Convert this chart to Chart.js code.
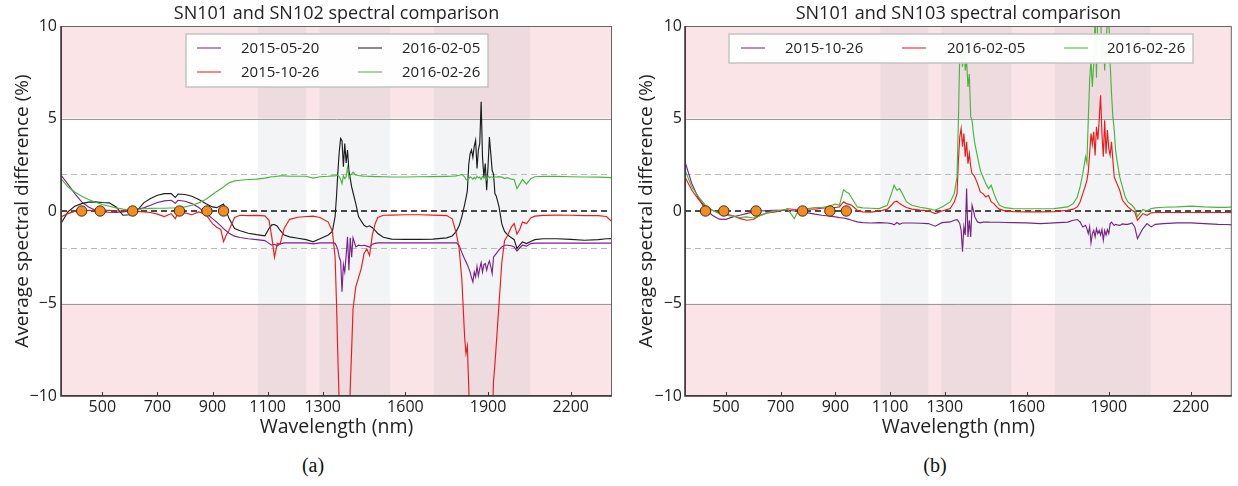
<!DOCTYPE html>
<html>
<head>
<meta charset="utf-8">
<script src="https://cdn.jsdelivr.net/npm/chart.js@4.4.0/dist/chart.umd.min.js"></script>
<style>
  body { margin: 0; background: #fff; width: 1238px; height: 486px; position: relative; overflow: hidden; }
  .panel { position: absolute; top: 0; height: 440px; }
  .cap { position: absolute; top: 454px; width: 60px; text-align: center;
         font-family: 'Liberation Serif', serif; font-size: 20px; color: #111; }
</style>
</head>
<body>
<div class="panel" style="left:0;width:620px"><canvas id="chartA"></canvas></div>
<div class="panel" style="left:620px;width:618px"><canvas id="chartB"></canvas></div>
<div class="cap" style="left:283px">(a)</div>
<div class="cap" style="left:905px">(b)</div>
<script>
// wavelength grid (nm), shared by every series
var wavelength = [
  350, 375, 400, 425, 450, 475, 500, 525, 550, 575,
  600, 625, 650, 675, 700, 725, 750, 765, 775, 800,
  825, 850, 875, 900, 915, 930, 940, 950, 960, 980,
  1000, 1030, 1060, 1090, 1105, 1115, 1125, 1135, 1145, 1160,
  1180, 1210, 1240, 1265, 1290, 1320, 1335, 1345, 1350, 1355,
  1360, 1365, 1370, 1375, 1380, 1385, 1390, 1395, 1400, 1405,
  1410, 1420, 1430, 1440, 1450, 1460, 1470, 1480, 1490, 1500,
  1520, 1550, 1600, 1650, 1700, 1750, 1770, 1785, 1795, 1805,
  1815, 1820, 1825, 1830, 1835, 1840, 1845, 1850, 1855, 1860,
  1865, 1870, 1875, 1880, 1885, 1890, 1895, 1900, 1905, 1910,
  1915, 1920, 1925, 1930, 1940, 1950, 1960, 1970, 1985, 1995,
  2005, 2015, 2025, 2040, 2055, 2070, 2100, 2150, 2200, 2250,
  2300, 2330, 2350
];

// (a) SN101 vs SN102
var a_20150520 = [
  1.94, 1.45, 0.94, 0.49, 0.22, 0.04, -0.05, -0.07, -0.08, -0.05,
  0.0, 0.08, 0.17, 0.31, 0.46, 0.55, 0.58, 0.42, 0.58, 0.53,
  0.4, 0.19, -0.1, -0.41, -0.6, -0.8, -0.95, -1.08, -1.2, -1.36,
  -1.43, -1.5, -1.55, -1.6, -1.75, -1.85, -1.8, -1.88, -1.78, -1.72,
  -1.72, -1.72, -1.72, -1.78, -1.72, -1.72, -1.72, -1.75, -1.9, -2.1,
  -2.5, -2.7, -4.37, -2.9, -3.3, -2.4, -1.4, -3.2, -1.45, -2.5,
  -1.45, -1.94, -1.85, -1.88, -1.85, -1.9, -1.95, -1.8, -1.75, -1.72,
  -1.72, -1.72, -1.72, -1.72, -1.72, -1.72, -1.72, -1.72, -1.85, -2.25,
  -2.6, -2.75, -2.9, -3.1, -3.3, -3.6, -3.83, -3.3, -3.56, -3.0,
  -3.5, -3.1, -2.8, -3.3, -2.9, -2.84, -3.2, -2.9, -2.7, -3.0,
  -3.38, -2.5, -2.4, -2.3, -2.1, -1.94, -1.85, -1.85, -1.88, -1.94,
  -2.16, -2.0, -1.85, -1.9, -1.76, -1.74, -1.74, -1.74, -1.74, -1.74,
  -1.74, -1.74, -1.74
];
var a_20151026 = [
  -0.32, -0.14, -0.02, 0.0, 0.04, 0.03, 0.04, 0.03, 0.0, 0.0,
  0.0, -0.02, -0.05, -0.08, -0.17, -0.3, -0.14, -0.41, -0.1, -0.1,
  -0.2, -0.05, -0.17, -0.68, -0.88, -1.0, -1.66, -1.3, -1.04, -0.35,
  -0.23, -0.25, -0.24, -0.26, -0.5, -1.4, -2.5, -1.75, -1.8, -0.95,
  -0.45, -0.34, -0.3, -0.28, -0.35, -0.6, -1.1, -2.5, -5.0, -7.9,
  -10.5, -13, -13, -13, -13, -13, -13, -12, -9.5, -7.5,
  -5.3, -4.1, -3.6, -3.1, -2.3, -2.05, -2.4, -1.3, -0.7, -0.35,
  -0.23, -0.22, -0.2, -0.2, -0.22, -0.25, -0.42, -1.22, -2.0, -3.7,
  -6.8, -7.7, -7.3, -9.5, -12, -13, -13, -13, -13, -13,
  -13, -13, -13, -13, -13, -13, -13, -13, -13, -13,
  -11.5, -9.2, -8.3, -7.2, -5.0, -2.8, -1.6, -1.35, -0.86, -0.68,
  -1.25, -1.0, -0.6, -0.68, -0.38, -0.28, -0.24, -0.22, -0.23, -0.25,
  -0.25, -0.3, -0.59
];
var a_20160205 = [
  -0.68, -0.05, 0.26, 0.4, 0.48, 0.49, 0.46, 0.44, 0.22, -0.23,
  -0.2, 0.0, 0.44, 0.67, 0.85, 0.94, 0.94, 0.73, 0.92, 0.89,
  0.8, 0.62, 0.4, 0.22, 0.18, 0.3, 0.38, 0.0, -0.41, -0.95,
  -1.07, -1.2, -1.28, -1.34, -0.95, -0.75, -0.73, -0.82, -1.04, -1.3,
  -1.4, -1.47, -1.55, -1.67, -1.5, -1.3, -1.1, -0.3, 0.8, 2.1,
  3.2, 3.92, 3.8, 2.4, 3.65, 2.6, 3.3, 2.2, 1.75, 1.3,
  1.0, 0.4, -0.3, -0.55, -0.77, -0.86, -0.8, -0.9, -1.05, -1.22,
  -1.42, -1.52, -1.53, -1.53, -1.52, -1.45, -1.35, -1.1, -0.8, -0.3,
  0.35, 0.7, 1.1, 2.5, 3.1, 3.3, 2.9, 3.5, 3.83, 2.3,
  3.3, 3.65, 5.9, 2.9, 1.84, 2.57, 1.12, 2.4, 4.0, 3.1,
  2.2, 2.0, 0.94, 0.8, 0.22, -0.7, -1.1, -1.28, -1.45, -1.55,
  -2.03, -1.85, -1.67, -1.76, -1.65, -1.55, -1.5, -1.5, -1.53, -1.58,
  -1.55, -1.5, -1.49
];
var a_20160226 = [
  1.75, 1.3, 1.03, 0.8, 0.62, 0.47, 0.35, 0.26, 0.17, 0.1,
  0.04, 0.08, 0.12, 0.14, 0.15, 0.15, 0.16, 0.17, 0.18, 0.22,
  0.31, 0.44, 0.62, 0.89, 1.05, 1.2, 1.3, 1.42, 1.52, 1.63,
  1.66, 1.7, 1.72, 1.78, 1.82, 1.85, 1.86, 1.88, 1.9, 1.9,
  1.88, 1.88, 1.88, 1.78, 1.85, 1.88, 1.9, 1.9, 1.92, 1.93,
  1.85, 1.7, 1.48, 1.9, 1.75, 1.85, 2.35, 1.8, 1.95, 2.0,
  2.1, 1.95, 1.92, 1.9, 1.88, 1.88, 1.87, 1.87, 1.86, 1.86,
  1.85, 1.84, 1.84, 1.85, 1.86, 1.87, 1.88, 1.9, 1.93, 1.98,
  1.85, 1.7, 1.66, 1.75, 1.85, 1.8, 1.72, 1.82, 1.74, 1.88,
  1.78, 1.83, 1.7, 1.86, 1.78, 1.82, 1.68, 1.9, 1.8, 1.85,
  1.83, 1.78, 1.85, 1.84, 1.86, 1.83, 1.75, 1.8, 1.72, 1.7,
  1.21, 1.45, 1.7, 1.45, 1.75, 1.85, 1.87, 1.87, 1.85, 1.84,
  1.83, 1.82, 1.8
];

// (b) SN101 vs SN103
var b_20151026 = [
  2.66, 1.48, 0.67, 0.08, -0.23, -0.44, -0.45, -0.32, -0.23, -0.14,
  -0.05, 0.0, 0.02, 0.04, 0.04, 0.04, 0.0, -0.02, -0.02, -0.1,
  -0.17, -0.23, -0.27, -0.32, -0.36, -0.38, -0.41, -0.45, -0.5, -0.59,
  -0.63, -0.65, -0.63, -0.65, -0.68, -0.75, -0.62, -0.72, -0.65, -0.65,
  -0.65, -0.66, -0.68, -0.82, -0.63, -0.59, -0.5, -0.47, -0.55, -0.68,
  -1.04, -2.2, -0.85, -1.3, 1.21, -1.4, -0.5, -1.4, 0.31, 0.04,
  -0.32, -0.59, -0.64, -0.6, -0.6, -0.6, -0.61, -0.61, -0.61, -0.61,
  -0.62, -0.63, -0.64, -0.68, -0.64, -0.6, -0.5, -0.46, -0.59, -0.86,
  -0.77, -0.95, -1.22, -0.85, -1.72, -1.22, -1.05, -1.4, -0.95, -1.22,
  -1.05, -1.3, -1.0, -1.58, -1.05, -1.3, -1.0, -1.22, -0.68, -0.6,
  -0.7, -0.78, -0.72, -0.75, -0.78, -0.7, -0.72, -0.72, -0.65, -0.86,
  -1.49, -1.22, -0.95, -0.68, -0.86, -0.72, -0.68, -0.64, -0.64, -0.68,
  -0.72, -0.73, -0.75
];
var b_20160205 = [
  1.84, 1.12, 0.62, 0.26, 0.04, -0.1, -0.17, -0.26, -0.4, -0.5,
  -0.46, -0.23, -0.1, -0.06, 0.0, 0.12, 0.08, 0.07, 0.11, 0.11,
  0.1, 0.15, 0.18, 0.19, 0.22, 0.5, 0.4, 0.36, 0.31, 0.04,
  -0.05, -0.06, -0.01, 0.1, 0.31, 0.49, 0.53, 0.4, 0.31, 0.19,
  0.1, 0.05, 0.01, -0.14, 0.0, 0.13, 0.49, 0.94, 2.75, 4.0,
  4.46, 3.47, 4.19, 2.93, 3.74, 2.56, 3.1, 2.39, 2.02, 1.95,
  1.84, 1.48, 1.03, 0.94, 0.76, 0.85, 0.49, 0.4, 0.22, 0.1,
  0.01, -0.03, -0.05, -0.05, -0.03, 0.04, 0.1, 0.22, 0.49, 0.94,
  1.39, 1.66, 2.11, 3.1, 4.19, 3.6, 4.28, 3.0, 4.55, 3.85,
  4.9, 6.26, 4.19, 2.93, 4.9, 3.1, 4.37, 3.38, 3.02, 3.74,
  2.75, 1.84, 1.65, 1.48, 1.12, 0.58, 0.4, 0.22, 0.04, -0.05,
  -0.5, -0.32, -0.14, -0.23, -0.1, -0.08, -0.08, -0.08, -0.08, -0.07,
  -0.08, -0.08, -0.08
];
var b_20160226 = [
  2.2, 1.3, 0.76, 0.31, 0.04, -0.14, -0.23, -0.28, -0.35, -0.32,
  -0.38, -0.25, -0.1, -0.02, 0.04, 0.1, -0.41, 0.05, 0.08, 0.13,
  0.19, 0.19, 0.26, 0.37, 0.31, 1.15, 1.03, 0.95, 0.7, 0.22,
  0.17, 0.15, 0.13, 0.31, 0.94, 1.39, 1.12, 1.21, 0.94, 0.49,
  0.31, 0.2, 0.13, 0.04, 0.22, 0.49, 0.94, 1.84, 4.9, 8.5,
  9.2, 7.8, 9.2, 7.6, 8.15, 6.7, 7.4, 5.1, 4.9, 4.19,
  3.65, 2.93, 2.21, 1.84, 1.48, 1.21, 1.39, 0.94, 0.58, 0.31,
  0.18, 0.13, 0.12, 0.12, 0.13, 0.22, 0.4, 0.76, 1.3, 2.02,
  2.93, 2.6, 4.9, 7.07, 8.15, 6.7, 7.97, 10.5, 7.2, 11,
  11, 10.6, 8.15, 9.5, 7.6, 9.2, 10.2, 10.5, 8.0, 6.35,
  5.1, 4.37, 3.29, 2.75, 1.84, 1.3, 0.76, 0.49, 0.31, 0.13,
  -0.3, -0.1, 0.08, 0.0, 0.13, 0.17, 0.2, 0.22, 0.26, 0.22,
  0.2, 0.2, 0.22
];

// reference points on the zero line
var markerNm = [425, 492, 610, 780, 880, 940];
var markerVal = [0, 0, 0, 0, 0, 0];

// shaded water-vapour windows (nm) and tolerance levels (%)
var bandRanges = [[1065, 1240], [1288, 1545], [1703, 2053]];
var limitLevels = [-5, 5];
var toleranceLevels = [-2, 2];
var xTicks = [500, 700, 900, 1100, 1300, 1600, 1900, 2200];
var yTicks = [-10, -5, 0, 5, 10];

var FONT = "'Open Sans', sans-serif";
var PURPLE = 'rgb(122,34,138)', RED = 'rgb(240,24,24)', BLACK = '#1c1c1c', GREEN = 'rgb(72,182,60)';

function pts(vals) {
  return wavelength.map((w, i) => ({x: w, y: vals[i]}));
}

var decor = {
  id: 'decor',
  beforeDatasetsDraw(chart) {
    var ctx = chart.ctx, a = chart.chartArea, x = chart.scales.x, y = chart.scales.y;
    ctx.save();
    ctx.beginPath();
    ctx.rect(a.left, a.top, a.width, a.height);
    ctx.clip();
    // out-of-tolerance zones
    ctx.fillStyle = 'rgba(232,120,135,0.2)';
    var yTop = y.getPixelForValue(10), y5 = y.getPixelForValue(5);
    var yM5 = y.getPixelForValue(-5), yBot = y.getPixelForValue(-10);
    ctx.fillRect(a.left, yTop, a.width, y5 - yTop);
    ctx.fillRect(a.left, yM5, a.width, yBot - yM5);
    // absorption bands
    ctx.fillStyle = 'rgba(110,130,160,0.09)';
    bandRanges.forEach(function (b) {
      var x0 = x.getPixelForValue(b[0]), x1 = x.getPixelForValue(b[1]);
      ctx.fillRect(x0, a.top, x1 - x0, a.height);
    });
    // horizontal reference lines
    ctx.lineWidth = 1;
    ctx.strokeStyle = '#9a9a9a';
    limitLevels.forEach(function (v) {
      var py = Math.round(y.getPixelForValue(v)) + 0.5;
      ctx.beginPath(); ctx.moveTo(a.left, py); ctx.lineTo(a.right, py); ctx.stroke();
    });
    ctx.strokeStyle = '#b8b8b8';
    ctx.lineWidth = 1.2;
    ctx.setLineDash([6, 4]);
    toleranceLevels.forEach(function (v) {
      var py = Math.round(y.getPixelForValue(v)) + 0.5;
      ctx.beginPath(); ctx.moveTo(a.left, py); ctx.lineTo(a.right, py); ctx.stroke();
    });
    ctx.strokeStyle = '#111';
    ctx.lineWidth = 1.6;
    var p0 = y.getPixelForValue(0);
    ctx.beginPath(); ctx.moveTo(a.left, p0); ctx.lineTo(a.right, p0); ctx.stroke();
    ctx.restore();
  },
  afterDraw(chart) {
    var ctx = chart.ctx, a = chart.chartArea, x = chart.scales.x;
    var o = chart.options.plugins.decor;
    ctx.save();
    // frame
    ctx.strokeStyle = '#666';
    ctx.lineWidth = 1;
    ctx.strokeRect(a.left + 0.5, a.top + 0.5, a.width - 1, a.height - 1);
    ctx.strokeStyle = '#333';
    ctx.lineWidth = 1.5;
    ctx.beginPath();
    ctx.moveTo(a.left, a.top); ctx.lineTo(a.left, a.bottom); ctx.lineTo(a.right, a.bottom);
    ctx.stroke();
    // inward x tick marks
    ctx.lineWidth = 1;
    xTicks.forEach(function (v) {
      var px = Math.round(x.getPixelForValue(v)) + 0.5;
      ctx.beginPath(); ctx.moveTo(px, a.bottom); ctx.lineTo(px, a.bottom - 4); ctx.stroke();
    });
    // title
    ctx.fillStyle = '#222';
    ctx.font = '18px ' + FONT;
    ctx.textAlign = 'center';
    ctx.textBaseline = 'middle';
    ctx.fillText(o.title, (a.left + a.right) / 2, 14);
    // legend
    var L = o.legend;
    ctx.fillStyle = 'rgba(255,255,255,0.96)';
    ctx.fillRect(L.box[0], L.box[1], L.box[2], L.box[3]);
    ctx.strokeStyle = '#c4c4c4';
    ctx.lineWidth = 1.5;
    ctx.strokeRect(L.box[0], L.box[1], L.box[2], L.box[3]);
    ctx.font = '15px ' + FONT;
    ctx.textAlign = 'left';
    var series = chart.data.datasets.filter(function (d) { return !d.isMarker; });
    series.forEach(function (d, i) {
      var pos = L.items[i];
      ctx.globalAlpha = 0.65;
      ctx.strokeStyle = d.borderColor;
      ctx.lineWidth = 1.6;
      ctx.beginPath(); ctx.moveTo(pos[0], pos[2]); ctx.lineTo(pos[0] + 24, pos[2]); ctx.stroke();
      ctx.globalAlpha = 1;
      ctx.fillStyle = '#222';
      ctx.fillText(d.label, pos[1], pos[2] + 1);
    });
    ctx.restore();
  }
};

function makeChart(id, series, cfg) {
  var datasets = [{
    label: 'markers', isMarker: true,
    data: markerNm.map((w, i) => ({x: w, y: markerVal[i]})),
    showLine: false, pointRadius: 5.2, pointBackgroundColor: 'rgb(246,140,30)',
    pointBorderColor: '#333', pointBorderWidth: 1, order: 0
  }];
  series.forEach(function (s) {
    datasets.push({
      label: s.label, data: pts(s.values), borderColor: s.color,
      borderWidth: 1.15, pointRadius: 0, tension: 0, order: s.order
    });
  });
  return new Chart(id, {
    type: 'line',
    data: {datasets: datasets},
    plugins: [decor],
    options: {
      responsive: true, maintainAspectRatio: false, animation: false,
      layout: {padding: {left: 0, right: cfg.padRight, top: 26, bottom: 0}},
      plugins: {
        legend: {display: false}, tooltip: {enabled: false},
        decor: {title: cfg.title, legend: cfg.legend}
      },
      scales: {
        x: {
          type: 'linear', min: 350, max: 2350,
          afterBuildTicks: function (s) { s.ticks = xTicks.map(v => ({value: v})); },
          afterFit: function (s) { s.height = 44; },
          grid: {display: false, drawTicks: false},
          border: {display: false},
          ticks: {font: {family: FONT, size: 16}, color: '#222', padding: 2, autoSkip: false,
                  maxRotation: 0, callback: v => String(v)},
          title: {display: true, text: 'Wavelength (nm)', color: '#222',
                  font: {family: FONT, size: 19.5}, padding: {top: 0, bottom: 1}}
        },
        y: {
          type: 'linear', min: -10, max: 10,
          afterBuildTicks: function (s) { s.ticks = yTicks.map(v => ({value: v})); },
          afterFit: function (s) { s.width = cfg.yWidth; },
          grid: {display: false, drawTicks: false},
          border: {display: false},
          ticks: {font: {family: FONT, size: 16}, color: '#222', padding: cfg.yPad,
                  callback: v => String(v).replace('-', '\u2212')},
          title: {display: true, text: 'Average spectral difference (%)', color: '#222',
                  font: {family: FONT, size: 19}, padding: {top: cfg.yTitlePad, bottom: 0}}
        }
      }
    }
  });
}

makeChart('chartA', [
  {label: '2015-05-20', values: a_20150520, color: PURPLE, order: 4},
  {label: '2015-10-26', values: a_20151026, color: RED, order: 2},
  {label: '2016-02-05', values: a_20160205, color: BLACK, order: 3},
  {label: '2016-02-26', values: a_20160226, color: GREEN, order: 1}
], {
  title: 'SN101 and SN102 spectral comparison',
  padRight: 8, yWidth: 61, yPad: 4, yTitlePad: 11,
  legend: {box: [186, 34, 302, 53],
           items: [[197, 241, 48], [197, 241, 72], [358, 402, 48], [358, 402, 72]]}
});

makeChart('chartB', [
  {label: '2015-10-26', values: b_20151026, color: PURPLE, order: 3},
  {label: '2016-02-05', values: b_20160205, color: RED, order: 2},
  {label: '2016-02-26', values: b_20160226, color: GREEN, order: 1}
], {
  title: 'SN101 and SN103 spectral comparison',
  padRight: 3, yWidth: 65, yPad: 3, yTitlePad: 15,
  legend: {box: [109, 34, 464, 29],
           items: [[121, 165, 48], [282, 327, 48], [444, 487, 48]]}
});
</script>
</body>
</html>
